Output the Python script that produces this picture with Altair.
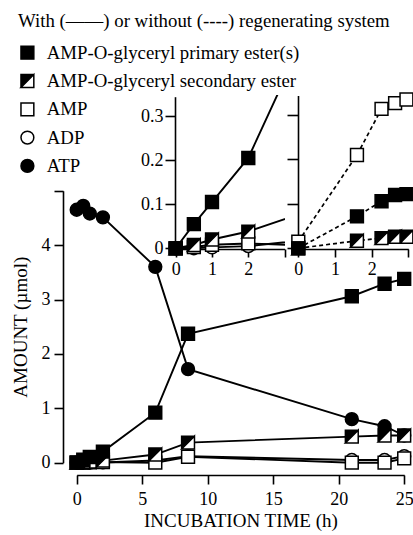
import altair as alt
import pandas as pd

series_names = [
    "AMP-O-glyceryl primary ester(s)",
    "AMP-O-glyceryl secondary ester",
    "AMP",
    "ADP",
    "ATP",
]
legend_title = "With (——) or without (----) regenerating system"
x_title = "INCUBATION TIME (h)"
y_title = "AMOUNT (µmol)"

# With regenerating system (main panel and left inset): time (h), amount (µmol)
time_with = [0, 0.5, 1, 2, 6, 8.5, 21, 23.5, 25]
primary_with = [0, 0.055, 0.105, 0.205, 0.92, 2.37, 3.06, 3.29, 3.38]
secondary_with = [0, 0.0075, 0.02, 0.038, 0.15, 0.37, 0.48, 0.50, 0.50]
amp_with = [0, 0.003, 0.008, 0.011, 0.0, 0.11, 0.0, 0.0, 0.08]
adp_with = [0, 0.0, 0.002, 0.005, 0.04, 0.12, 0.05, 0.05, 0.12]
atp_with = [4.65, 4.72, 4.58, 4.51, 3.60, 1.72, 0.80, 0.67, 0.50]

# Without regenerating system (right inset)
time_without = [0, 1.6, 2.27, 2.64, 2.95]
primary_without = [0, 0.072, 0.106, 0.120, 0.122]
secondary_without = [0, 0.017, 0.023, 0.026, 0.026]
amp_without = [0.015, 0.21, 0.314, 0.327, 0.335]

main_x_ticks = [0, 5, 10, 15, 20, 25]
main_y_ticks = [0, 1, 2, 3, 4, 5]
inset_x_ticks = [0, 1, 2, 3]
inset_y_ticks = [0, 0.1, 0.2, 0.3]

draw_rank = {"ATP": 0, "ADP": 1, "AMP": 2,
             series_names[1]: 3, series_names[0]: 4}


def long_table(times, cols):
    rows = []
    for name, vals in cols:
        for t, v in zip(times, vals):
            rows.append({"t": t, "v": v, "series": name, "z": draw_rank[name]})
    return pd.DataFrame(rows)


df_with = long_table(time_with, [
    (series_names[0], primary_with),
    (series_names[1], secondary_with),
    ("AMP", amp_with),
    ("ADP", adp_with),
    ("ATP", atp_with),
])
df_without = long_table(time_without, [
    (series_names[0], primary_without),
    (series_names[1], secondary_without),
    ("AMP", amp_without),
])

FONT = "Liberation Serif"
HALF = "M-1,-1L1,-1L1,1L-1,1Z M-1,1L1,1L1,-1Z"
SYM = 165

shape_scale = alt.Scale(domain=series_names,
                        range=["square", HALF, "square", "circle", "circle"])
fill_scale = alt.Scale(domain=series_names,
                       range=["black", "black", "white", "white", "black"])
stroke_scale = alt.Scale(domain=series_names, range=["black"] * 5)


def make_legend():
    return alt.Legend(
        title=legend_title, orient="none", legendX=18, legendY=12,
        titleFont=FONT, titleFontSize=18.8, titleFontWeight="normal",
        titleColor="black", titleLimit=0, titlePadding=12.5,
        labelFont=FONT, labelFontSize=18.8, labelColor="black", labelLimit=0,
        labelOffset=10, rowPadding=7.3, symbolSize=SYM,
        symbolStrokeColor="black", symbolStrokeWidth=1.5, padding=0,
    )


def panel(df, xscale, yscale, xaxis, yaxis, dashed, clip_path=None, pt_filter=None):
    X = alt.X("t:Q", scale=xscale, axis=xaxis)
    Y = alt.Y("v:Q", scale=yscale, axis=yaxis)
    base = alt.Chart(df)
    lk = dict(color="black", strokeWidth=1.9)
    if dashed:
        lk = dict(color="black", strokeWidth=1.7, strokeDash=[4, 3])
    if clip_path:
        lk["clip"] = {"expr": "pathShape('" + clip_path + "')"}
    lines = base.mark_line(**lk).encode(x=X, y=Y, detail="series:N", order="t:Q")
    pb = base
    if pt_filter:
        pb = base.transform_filter(pt_filter)
    enc = dict(
        x=X, y=Y,
        shape=alt.Shape("series:N", scale=shape_scale, legend=make_legend()),
        fill=alt.Fill("series:N", scale=fill_scale, legend=make_legend()),
        stroke=alt.Stroke("series:N", scale=stroke_scale, legend=make_legend()),
        strokeWidth=alt.value(1.5),
        order=alt.Order("z:Q"),
    )
    back = pb.transform_filter(
        alt.FieldOneOfPredicate(field="series", oneOf=["ATP", "ADP", "AMP"])
    ).mark_point(opacity=1, size=SYM).encode(**enc)
    under = pb.transform_filter(
        alt.FieldEqualPredicate(field="series", equal=series_names[1])
    ).mark_square(color="white", opacity=1, size=SYM).encode(x=X, y=Y)
    front = pb.transform_filter(
        alt.FieldOneOfPredicate(field="series", oneOf=series_names[:2])
    ).mark_point(opacity=1, size=SYM).encode(**enc)
    return alt.layer(lines, back, under, front)


main = panel(
    df_with,
    alt.Scale(domain=[0, 25], range=[76.7, 404.2], nice=False, zero=False),
    alt.Scale(domain=[0, 5], range=[462.7, 190.7], nice=False),
    alt.Axis(orient="bottom", offset=-60, values=main_x_ticks, title=x_title,
             tickSize=9, labelPadding=6, titlePadding=3, format="d",
             titleFontSize=19),
    alt.Axis(orient="left", offset=-63, values=main_y_ticks, title=y_title,
             labelExpr="datum.value == 5 ? '' : datum.label",
             tickSize=9, labelPadding=4, titlePadding=11, titleFontSize=19),
    dashed=False,
)

left = panel(
    df_with,
    alt.Scale(domain=[0, 3], range=[175.7, 284.6], nice=False, zero=False),
    alt.Scale(domain=[0, 0.344], range=[248.3, 96.7], nice=False),
    alt.Axis(orient="bottom", offset=-286, values=inset_x_ticks, title=None,
             labelExpr="datum.value == 3 ? '' : datum.label",
             tickSize=8, labelPadding=3),
    alt.Axis(orient="left", offset=-175, values=inset_y_ticks, title=None,
             labelExpr="datum.value == 0 ? '0' : format(datum.value, '.1f')",
             tickSize=10, labelPadding=2),
    dashed=False,
    clip_path="M174,95H285V252H174Z",
    pt_filter="datum.t <= 3 && datum.v <= 0.344",
)

right = panel(
    df_without,
    alt.Scale(domain=[0, 3], range=[298.3, 408.3], nice=False, zero=False),
    alt.Scale(domain=[0, 0.344], range=[248.3, 95.5], nice=False),
    alt.Axis(orient="bottom", offset=-286, values=inset_x_ticks, title=None,
             labelExpr="datum.value == 3 ? '' : datum.label",
             tickSize=8, labelPadding=3),
    alt.Axis(orient="left", offset=-298, values=inset_y_ticks, title=None,
             labels=False, tickSize=11),
    dashed=True,
)

chart = alt.layer(main, left, right).resolve_scale(
    x="independent", y="independent"
).properties(
    width=413, height=535, padding=0, background="white",
    autosize=alt.AutoSizeParams(type="none"),
).configure_view(stroke=None).configure_axis(
    domainColor="black", domainWidth=1.6, tickColor="black", tickWidth=1.6,
    labelFont=FONT, labelFontSize=18, labelColor="black",
    titleFont=FONT, titleFontSize=18, titleFontWeight="normal", titleColor="black",
    grid=False, labelFlush=False, labelOverlap=False,
)

chart.save("out.html", embed_options={"renderer": "svg", "actions": False})
